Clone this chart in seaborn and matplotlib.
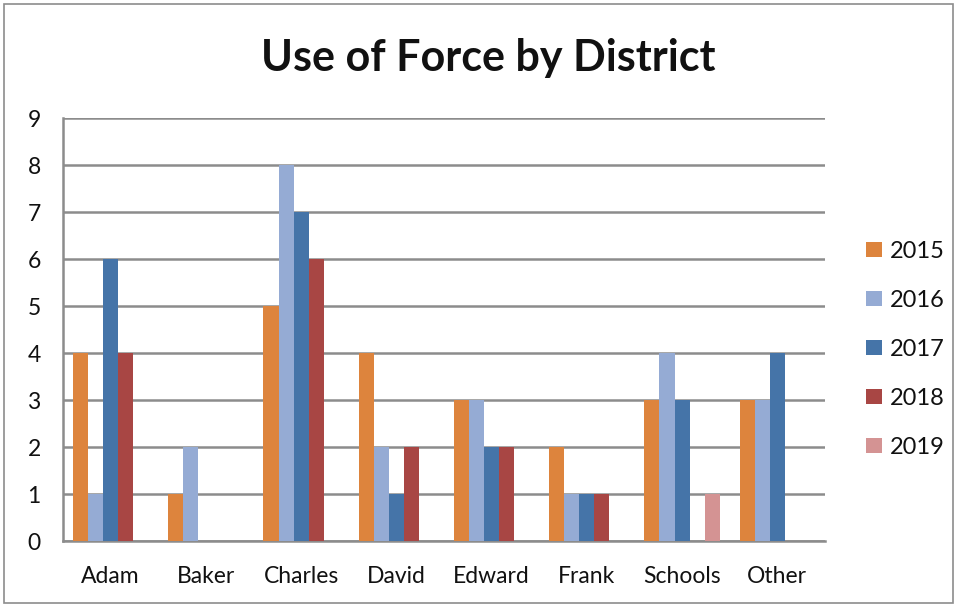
import numpy as np
import pandas as pd
import seaborn as sns
from matplotlib import pyplot as plt
from matplotlib.patches import Rectangle

DISTRICTS = ['Adam', 'Baker', 'Charles', 'David', 'Edward', 'Frank', 'Schools', 'Other']
YEARS = ['2015', '2016', '2017', '2018', '2019']
Y2015 = [4, 1, 5, 4, 3, 2, 3, 3]
Y2016 = [1, 2, 8, 2, 3, 1, 4, 3]
Y2017 = [6, 0, 7, 1, 2, 1, 3, 4]
Y2018 = [4, 0, 6, 2, 2, 1, 0, 0]
Y2019 = [0, 0, 0, 0, 0, 0, 1, 0]
COLORS = ['#DD843D', '#95ABD4', '#4574A8', '#A84644', '#D49393']


def main():
    sns.set_style('white')
    plt.rcParams['font.family'] = ['Lato', 'DejaVu Sans']
    plt.rcParams['text.color'] = '#111111'
    plt.rcParams['xtick.color'] = '#111111'
    plt.rcParams['ytick.color'] = '#111111'

    rows = []
    for year, vals in zip(YEARS, [Y2015, Y2016, Y2017, Y2018, Y2019]):
        for d, v in zip(DISTRICTS, vals):
            rows.append({'District': d, 'Year': year, 'Count': v})
    df = pd.DataFrame(rows)

    fig = plt.figure(figsize=(9.57, 6.07), dpi=100)
    ax = fig.add_axes([0.0658, 0.1087, 0.862 - 0.0658, 0.8056 - 0.1087])

    sns.barplot(data=df, x='District', y='Count', hue='Year', order=DISTRICTS,
                hue_order=YEARS, palette=COLORS, width=0.79, saturation=1,
                errorbar=None, linewidth=0, ax=ax, zorder=3)

    ax.set_ylim(0, 9)
    ax.set_yticks(range(10))
    ax.set_xlim(-0.5, len(DISTRICTS) - 0.5)
    ax.yaxis.grid(True, color='#8c8c8c', linewidth=1.8, zorder=0)
    ax.set_axisbelow(True)
    for s in ['top', 'right']:
        ax.spines[s].set_visible(False)
    ax.spines['left'].set_color('#8c8c8c')
    ax.spines['left'].set_linewidth(1.8)
    ax.spines['bottom'].set_color('#8c8c8c')
    ax.spines['bottom'].set_linewidth(1.8)
    ax.tick_params(axis='y', length=0, labelsize=16.5, pad=16)
    ax.tick_params(axis='x', length=0, labelsize=16.5, pad=18)
    ax.set_xlabel('')
    ax.set_ylabel('')

    fig.text(0.51, 0.905, 'Use of Force by District', ha='center', va='center',
             fontsize=31, fontweight='bold')

    ax.legend(loc='center left', bbox_to_anchor=(1.026, 0.453), frameon=False,
              fontsize=17, labelspacing=1.18, handlelength=0.68, handleheight=0.6,
              handletextpad=0.35)

    fig.patches.append(Rectangle((0.004, 0.006), 0.992, 0.988, transform=fig.transFigure,
                                 fill=False, edgecolor='#8c8c8c', linewidth=1.2))

    fig.savefig('out.png', dpi=100)


if __name__ == '__main__':
    main()
